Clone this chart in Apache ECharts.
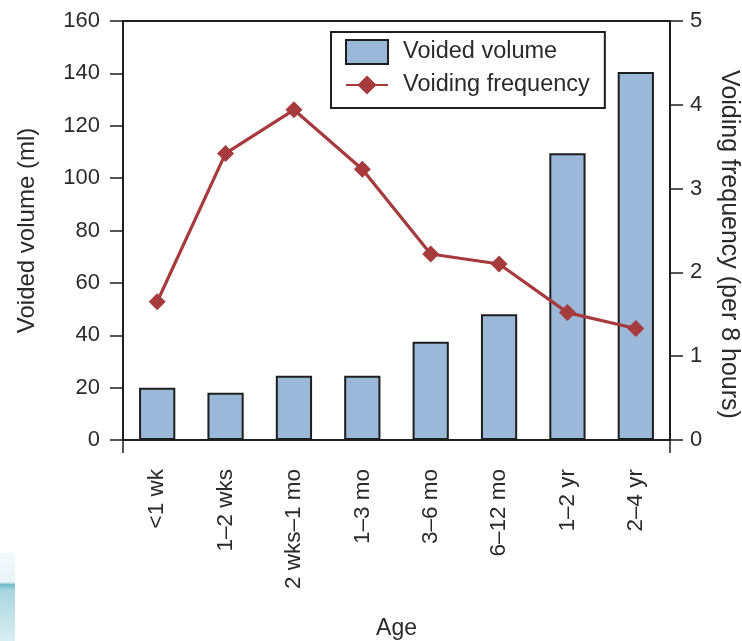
<!DOCTYPE html>
<html><head><meta charset="utf-8">
<script src="https://cdn.jsdelivr.net/npm/echarts@6/dist/echarts.min.js"></script>
<style>html,body{margin:0;padding:0;background:#fff}#c{width:742px;height:641px}</style>
</head><body><div id="c"></div>
<script>
const categories = ['<1 wk','1–2 wks','2 wks–1 mo','1–3 mo','3–6 mo','6–12 mo','1–2 yr','2–4 yr'];
const voidedVolume = [20, 18, 24.5, 24.5, 37.5, 48, 109.5, 140.5];
const voidingFrequency = [1.65, 3.42, 3.94, 3.23, 2.22, 2.10, 1.52, 1.33];
const seriesNames = ['Voided volume', 'Voiding frequency'];

const FONT = 'Liberation Sans, Arial, sans-serif';
const DARK = '#1e1e1e';
const TXT = '#2a2a2a';

const chart = echarts.init(document.getElementById('c'), null, {renderer: 'canvas'});
chart.setOption({
  animation: false,
  backgroundColor: '#fff',
  textStyle: {fontFamily: FONT},
  grid: {left: 123, right: 72, top: 21, bottom: 201, show: true, borderColor: DARK, borderWidth: 2,
         backgroundColor: 'transparent', containLabel: false, outerBoundsMode: 'none'},
  legend: {
    orient: 'vertical', left: 331, top: 32,
    borderColor: DARK, borderWidth: 2, padding: [7, 15, 11, 14], itemGap: 8,
    itemWidth: 42, itemHeight: 24,
    textStyle: {fontSize: 23.5, color: TXT, fontFamily: FONT, padding: [0, 0, 0, 10]},
    data: [{name: seriesNames[0], icon: 'rect'}, {name: seriesNames[1]}]
  },
  xAxis: [{
    type: 'category', data: categories, boundaryGap: true,
    name: 'Age', nameLocation: 'middle', nameGap: 177,
    nameTextStyle: {fontSize: 23, color: TXT, fontFamily: FONT},
    axisLine: {lineStyle: {color: DARK, width: 2}},
    axisTick: {alignWithLabel: true, length: 12, lineStyle: {color: DARK, width: 1.5}},
    axisLabel: {rotate: 90, fontSize: 22.5, color: TXT, margin: 29, fontFamily: FONT}
  }, {
    type: 'value', min: 0, max: 1, interval: 1, position: 'bottom',
    axisLine: {show: false}, splitLine: {show: false},
    axisTick: {show: true, length: 13, lineStyle: {color: DARK, width: 1.5}},
    axisLabel: {show: false}
  }],
  yAxis: [{
    type: 'value', min: 0, max: 160, interval: 20,
    name: 'Voided volume (ml)', nameLocation: 'middle', nameGap: 84,
    nameTextStyle: {fontSize: 24, color: TXT, fontFamily: FONT},
    axisLine: {show: true, lineStyle: {color: DARK, width: 2}},
    axisTick: {show: true, length: 13, lineStyle: {color: DARK, width: 1.5}},
    axisLabel: {fontSize: 22, color: TXT, margin: 23, fontFamily: FONT},
    splitLine: {show: false}
  }, {
    type: 'value', min: 0, max: 5, interval: 1, position: 'right',
    name: 'Voiding frequency (per 8 hours)', nameLocation: 'middle', nameGap: 46, nameRotate: -90,
    nameTextStyle: {fontSize: 25, color: TXT, fontFamily: FONT, padding: [0, 0, 0, 28]},
    axisLine: {show: true, lineStyle: {color: DARK, width: 2}},
    axisTick: {show: true, length: 13, lineStyle: {color: DARK, width: 1.5}},
    axisLabel: {fontSize: 22, color: TXT, margin: 20, fontFamily: FONT},
    splitLine: {show: false}
  }],
  graphic: [{
    type: 'rect', left: 0, top: 553, shape: {width: 15, height: 88}, silent: true,
    style: {fill: new echarts.graphic.LinearGradient(0, 0, 0, 1, [
      {offset: 0, color: '#f4fafc'}, {offset: 0.33, color: '#e8f4f7'},
      {offset: 0.36, color: '#6fb9c6'}, {offset: 0.42, color: '#a9d6de'},
      {offset: 1, color: '#d9eef3'}])}
  }],
  series: [{
    name: seriesNames[0], type: 'bar', data: voidedVolume, barWidth: '53%',
    itemStyle: {color: '#9bb8d9', borderColor: DARK, borderWidth: 2}
  }, {
    name: seriesNames[1], type: 'line', yAxisIndex: 1, data: voidingFrequency,
    symbol: 'diamond', symbolSize: 17,
    lineStyle: {color: '#a63a3c', width: 3.2},
    itemStyle: {color: '#a63a3c'}, z: 5
  }]
});
</script></body></html>
